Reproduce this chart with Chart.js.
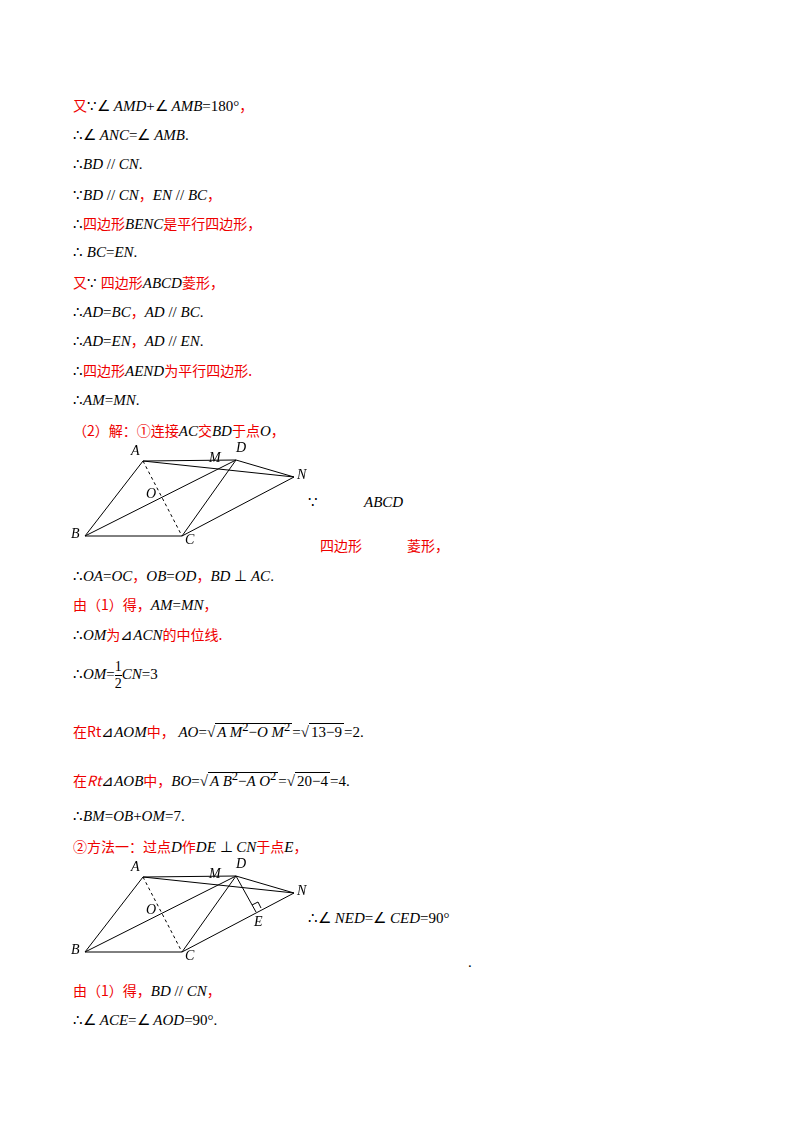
<!DOCTYPE html>
<html><head><meta charset="utf-8">
<script src="https://cdn.jsdelivr.net/npm/chart.js@4/dist/chart.umd.min.js"></script>
<style>
body{margin:0;background:#fff;width:800px;height:1132px;position:relative;font-family:"Liberation Serif",serif;font-size:15px}
.t{position:absolute;white-space:nowrap;line-height:18px}
.r{color:#e00;font-family:"Noto Sans CJK SC",sans-serif;font-size:14px}
i{font-style:italic}
.fig{position:absolute}
.frac{display:inline-block;vertical-align:middle;text-align:center;font-size:14px;line-height:16px}
.frac span{display:block}
.frac .n{border-bottom:1px solid #000}
.sq{border-top:1px solid #000;padding:0 2px}
</style></head><body>
<div class="t" style="left:73px;top:96px"><span class="r">又</span>∵∠ <i>AMD</i>+∠ <i>AMB</i>=180°<span class="r">，</span></div>
<div class="t" style="left:73px;top:126px">∴∠ <i>ANC</i>=∠ <i>AMB</i>.</div>
<div class="t" style="left:73px;top:155px">∴<i>BD</i> // <i>CN</i>.</div>
<div class="t" style="left:73px;top:185px">∵<i>BD</i> // <i>CN</i><span class="r">，</span><i>EN</i> // <i>BC</i><span class="r">，</span></div>
<div class="t" style="left:73px;top:214px">∴<span class="r">四边形</span><i>BENC</i><span class="r">是平行四边形，</span></div>
<div class="t" style="left:73px;top:243px">∴ <i>BC</i>=<i>EN</i>.</div>
<div class="t" style="left:73px;top:273px"><span class="r">又</span>∵ <span class="r">四边形</span><i>ABCD</i><span class="r">菱形，</span></div>
<div class="t" style="left:73px;top:302px">∴<i>AD</i>=<i>BC</i><span class="r">，</span><i>AD</i> // <i>BC</i>.</div>
<div class="t" style="left:73px;top:331px">∴<i>AD</i>=<i>EN</i><span class="r">，</span><i>AD</i> // <i>EN</i>.</div>
<div class="t" style="left:73px;top:361px">∴<span class="r">四边形</span><i>AEND</i><span class="r">为平行四边形.</span></div>
<div class="t" style="left:73px;top:391px">∴<i>AM</i>=<i>MN</i>.</div>
<div class="t" style="left:73px;top:421px"><span class="r">（2）解：①连接</span><i>AC</i><span class="r">交</span><i>BD</i><span class="r">于点</span><i>O</i><span class="r">，</span></div>
<div class="t" style="left:308px;top:493px">∵</div>
<div class="t" style="left:364px;top:493px"><i>ABCD</i></div>
<div class="t r" style="left:320px;top:536px">四边形</div>
<div class="t r" style="left:407px;top:536px">菱形，</div>
<div class="t" style="left:73px;top:566px">∴<i>OA</i>=<i>OC</i><span class="r">，</span><i>OB</i>=<i>OD</i><span class="r">，</span><i>BD</i> ⊥ <i>AC</i>.</div>
<div class="t" style="left:73px;top:595px"><span class="r">由（1）得，</span><i>AM</i>=<i>MN</i><span class="r">，</span></div>
<div class="t" style="left:73px;top:625px">∴<i>OM</i><span class="r">为</span>⊿<i>ACN</i><span class="r">的中位线.</span></div>
<div class="t" style="left:73px;top:657px;line-height:34px">∴<i>OM</i>=<span class="frac"><span class="n">1</span><span>2</span></span><i>CN</i>=3</div>
<div class="t" style="left:73px;top:718px"><span class="r">在Rt</span>⊿<i>AOM</i><span class="r">中，</span> <i>AO</i>=√<span class="sq"><i>A M</i><sup>2</sup>−<i>O M</i><sup>2</sup></span>=√<span class="sq">13−9</span>=2.</div>
<div class="t" style="left:73px;top:767px"><span class="r">在<i>Rt</i></span>⊿<i>AOB</i><span class="r">中，</span><i>BO</i>=√<span class="sq"><i>A B</i><sup>2</sup>−<i>A O</i><sup>2</sup></span>=√<span class="sq">20−4</span>=4.</div>
<div class="t" style="left:73px;top:807px">∴<i>BM</i>=<i>OB</i>+<i>OM</i>=7.</div>
<div class="t" style="left:73px;top:837px"><span class="r">②方法一：过点</span><i>D</i><span class="r">作</span><i>DE</i> ⊥ <i>CN</i><span class="r">于点</span><i>E</i><span class="r">，</span></div>
<div class="t" style="left:308px;top:909px">∴∠ <i>NED</i>=∠ <i>CED</i>=90°</div>
<div class="t" style="left:468px;top:953px">.</div>
<div class="t" style="left:73px;top:981px"><span class="r">由（1）得，</span><i>BD</i> // <i>CN</i><span class="r">，</span></div>
<div class="t" style="left:73px;top:1011px">∴∠ <i>ACE</i>=∠ <i>AOD</i>=90°.</div>
<canvas id="fig1" class="fig" style="left:60px;top:440px" width="260" height="115"></canvas>
<canvas id="fig2" class="fig" style="left:60px;top:856px" width="260" height="115"></canvas>
<script>
// point names and positions (page-style coordinates, y downward)
var names = ['A','B','C','D','O','M','N'];
var px = [143, 85, 182, 236, 162, 221, 294];
var py = [461, 536, 536, 460, 498, 468, 477];
var labelDx = [-12, -14, 3, 0, -16, -12, 3];
var labelDy = [-10, -2, 4, -12, -4, -10, -2];
var segs = [['A','B'],['B','C'],['C','D'],['D','A'],['B','D'],['A','N'],['C','N'],['D','N']];
var dashed = [['A','C']];
// second figure extra point E on CN
var ex = 256, ey = 912;

function pt(n, off){ var k = names.indexOf(n); return {x: px[k], y: py[k] + off}; }

function makeFig(id, off, withE){
  var sets = [];
  segs.forEach(function(s){
    sets.push({data:[pt(s[0],off), pt(s[1],off)], showLine:true, borderColor:'#000', borderWidth:1, pointRadius:0});
  });
  dashed.forEach(function(s){
    sets.push({data:[pt(s[0],off), pt(s[1],off)], showLine:true, borderColor:'#000', borderWidth:1, borderDash:[3,3], pointRadius:0});
  });
  if(withE){
    sets.push({data:[pt('D',off), {x:ex,y:ey}], showLine:true, borderColor:'#000', borderWidth:1, pointRadius:0});
    // right angle mark
    sets.push({data:[{x:ex-4,y:ey-7},{x:ex+2,y:ey-10},{x:ex+5,y:ey-4}], showLine:true, borderColor:'#000', borderWidth:1, pointRadius:0});
  }
  var labels = {
    id:'labels',
    afterDraw:function(chart){
      var c = chart.ctx, xs = chart.scales.x, ys = chart.scales.y;
      c.save(); c.font = 'italic 14px "Liberation Serif"'; c.fillStyle = '#000'; c.textBaseline = 'middle';
      names.forEach(function(n,k){
        c.fillText(n, xs.getPixelForValue(px[k]) + labelDx[k], ys.getPixelForValue(py[k]+off) + labelDy[k]);
      });
      if(withE) c.fillText('E', xs.getPixelForValue(ex)-2, ys.getPixelForValue(ey)+10);
      c.restore();
    }
  };
  new Chart(document.getElementById(id), {
    type:'scatter',
    data:{datasets:sets},
    options:{responsive:false, animation:false, layout:{padding:0},
      plugins:{legend:{display:false}, tooltip:{enabled:false}},
      scales:{x:{type:'linear', display:false, min:60, max:320},
              y:{type:'linear', display:false, min:440+off, max:555+off, reverse:true}}},
    plugins:[labels]
  });
}
makeFig('fig1', 0, false);
makeFig('fig2', 416, true);
</script>
</body></html>
